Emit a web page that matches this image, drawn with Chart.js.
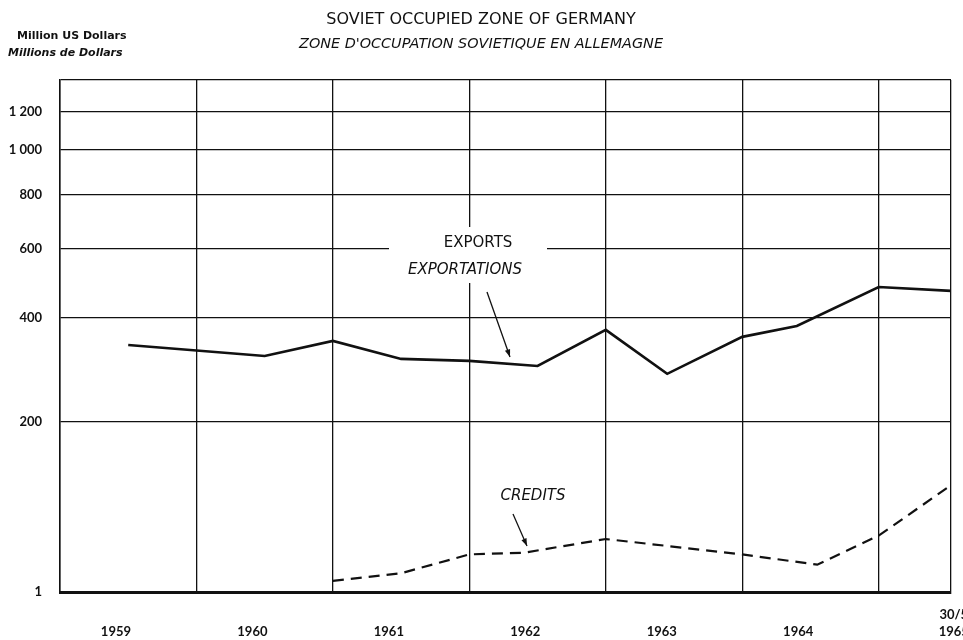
<!DOCTYPE html>
<html>
<head>
<meta charset="utf-8">
<script src="https://cdn.jsdelivr.net/npm/chart.js@4/dist/chart.umd.min.js"></script>
<style>
  html, body { margin: 0; padding: 0; background: #fff; }
  #wrap { width: 963px; height: 640px; position: relative; }
</style>
</head>
<body>
<div id="wrap"><canvas id="c" width="963" height="640"></canvas></div>
<script>
// ---- data ----
const yearLabels = ["1959", "1960", "1961", "1962", "1963", "1964"];
const endLabel = ["30/5", "1965"];
const yTickValues = [1, 200, 400, 600, 800, 1000, 1200];
const yTickLabels = ["1", "200", "400", "600", "800", "1 000", "1 200"];

// x: years elapsed since start of 1959
const exportDates  = [0.5, 1.5, 2.0, 2.5, 3.0, 3.5, 4.0, 4.45, 5.0, 5.4, 6.0, 6.53];
const exportValues = [338, 315, 347, 309, 305, 295, 372, 280, 356, 381, 482, 471];

const creditDates  = [2.0, 2.5, 3.0, 3.4, 4.0, 5.0, 5.55, 6.0, 6.53];
const creditValues = [14, 23, 45, 47, 63, 45, 33, 67, 126];

// ---- the chart's own (non-uniform) vertical scale ----
function toPos(v) {
  return v >= 200 ? 170 + 146 * (Math.pow(v, 0.25) - Math.pow(200, 0.25))
                  : 170 * (v - 1) / 199;
}
const X_MAX = 6.53;
const Y_MAX = 512;

const pts = (xs, ys) => xs.map((x, i) => ({ x: x, y: toPos(ys[i]) }));

const FONT = "Lato";
const TFONT = "'DejaVu Sans'";
Chart.defaults.font.family = FONT;
Chart.defaults.color = "#111";

function arrow(ctx, x1, y1, x2, y2) {
  ctx.beginPath();
  ctx.moveTo(x1, y1);
  ctx.lineTo(x2, y2);
  ctx.stroke();
  const a = Math.atan2(y2 - y1, x2 - x1);
  const L = 8, W = 0.35;
  ctx.beginPath();
  ctx.moveTo(x2, y2);
  ctx.lineTo(x2 - L * Math.cos(a - W), y2 - L * Math.sin(a - W));
  ctx.lineTo(x2 - L * Math.cos(a + W), y2 - L * Math.sin(a + W));
  ctx.closePath();
  ctx.fill();
}

const annotations = {
  id: "annotations",
  beforeDatasetsDraw(chart) {
    const ctx = chart.ctx;
    ctx.save();
    ctx.fillStyle = "#fff";
    ctx.fillRect(389, 227, 158, 56);
    ctx.restore();
  },
  afterDraw(chart) {
    const ctx = chart.ctx;
    ctx.save();
    ctx.fillStyle = "#111";
    ctx.strokeStyle = "#111";
    ctx.textBaseline = "middle";
    // titles
    ctx.textAlign = "center";
    ctx.font = "normal 16px " + TFONT;
    ctx.fillText("SOVIET OCCUPIED ZONE OF GERMANY", 481, 20);
    ctx.font = "oblique 14.4px " + TFONT;
    ctx.fillText("ZONE D'OCCUPATION SOVIETIQUE EN ALLEMAGNE", 481, 44);
    // unit labels
    ctx.textAlign = "left";
    ctx.font = "bold 11px " + TFONT;
    ctx.fillText("Million US Dollars", 17, 36);
    ctx.font = "oblique bold 11px " + TFONT;
    ctx.fillText("Millions de Dollars", 8, 53);
    // series labels
    ctx.textAlign = "center";
    ctx.font = "normal 15px " + TFONT;
    ctx.fillText("EXPORTS", 478, 243);
    ctx.font = "oblique 15px " + TFONT;
    ctx.fillText("EXPORTATIONS", 465, 270);
    ctx.fillText("CREDITS", 533, 496);
    ctx.lineWidth = 1.3;
    arrow(ctx, 487, 292, 510, 357);
    arrow(ctx, 513, 514, 527, 546);
    ctx.restore();
  }
};

new Chart(document.getElementById("c"), {
  type: "line",
  data: {
    datasets: [
      {
        label: "EXPORTS",
        data: pts(exportDates, exportValues),
        borderColor: "#111",
        borderWidth: 2.6,
        pointRadius: 0,
        tension: 0,
        fill: false
      },
      {
        label: "CREDITS",
        data: pts(creditDates, creditValues),
        borderColor: "#111",
        borderWidth: 2.2,
        borderDash: [11, 7],
        pointRadius: 0,
        tension: 0,
        fill: false
      }
    ]
  },
  options: {
    responsive: false,
    animation: false,
    layout: { padding: { top: 80, right: 12, bottom: 0, left: 0 } },
    plugins: {
      legend: { display: false },
      title: { display: false },
      tooltip: { enabled: false }
    },
    scales: {
      x: {
        type: "linear",
        position: "bottom",
        min: 0,
        max: X_MAX,
        afterBuildTicks(s) {
          const t = [];
          for (let i = 0; i <= 6; i++) t.push({ value: i });
          t.push({ value: X_MAX });
          s.ticks = t;
        },
        ticks: { display: false },
        grid: { color: "#111", lineWidth: 1.3, drawTicks: false },
        border: { display: true, color: "#111", width: 3 },
        afterFit(s) { s.height = 0; s.paddingLeft = 0; s.paddingRight = 0; }
      },
      x2: {
        type: "linear",
        position: "bottom",
        min: 0,
        max: X_MAX,
        afterBuildTicks(s) {
          const t = yearLabels.map((_, i) => ({ value: i + 0.41 }));
          t.push({ value: 6.55 });
          s.ticks = t;
        },
        ticks: {
          autoSkip: false,
          maxRotation: 0,
          padding: 15,
          font: { size: 13, weight: "bold", lineHeight: 1.25 },
          color: "#111",
          callback(v, i) {
            return i < yearLabels.length ? ["", yearLabels[i]] : endLabel;
          }
        },
        grid: { display: false, drawTicks: false },
        border: { display: false },
        afterFit(s) { s.height = 48; s.paddingLeft = 0; s.paddingRight = 0; }
      },
      y: {
        type: "linear",
        min: 0,
        max: Y_MAX,
        afterBuildTicks(s) {
          const t = yTickValues.map(v => ({ value: toPos(v) }));
          t.push({ value: Y_MAX });
          s.ticks = t;
        },
        ticks: {
          padding: 18,
          font: { size: 13, weight: "bold" },
          color: "#111",
          callback(v, i) { return i < yTickLabels.length ? yTickLabels[i] : ""; }
        },
        grid: { color: "#111", lineWidth: 1.3, drawTicks: false },
        border: { display: true, color: "#111", width: 1.5 },
        afterFit(s) { s.width = 60; s.paddingTop = 0; s.paddingBottom = 0; }
      }
    }
  },
  plugins: [annotations]
});
</script>
</body>
</html>
